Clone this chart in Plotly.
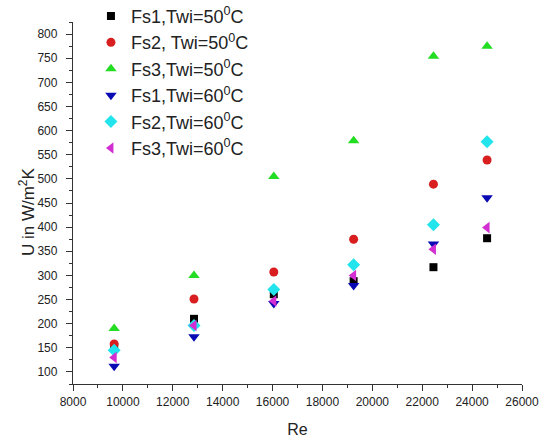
import plotly.graph_objects as go

# Reynolds numbers at which U was measured
re_values = [9650, 12850, 16050, 19250, 22450, 24600]

# Overall heat transfer coefficient U (W/m^2K)
u_fs1_50 = [152, 210, 261, 288, 317, 377]
u_fs2_50 = [158, 251, 307, 375, 489, 539]
u_fs3_50 = [190, 300, 505, 579, 754, 775]
u_fs1_60 = [112, 173, 242, 279, 365, 461]
u_fs2_60 = [145, 196, 271, 322, 405, 577]
u_fs3_60 = [130, 196, 247, 300, 354, 399]

series_names = [
    "Fs1,Twi=50<sup>0</sup>C",
    "Fs2, Twi=50<sup>0</sup>C",
    "Fs3,Twi=50<sup>0</sup>C",
    "Fs1,Twi=60<sup>0</sup>C",
    "Fs2,Twi=60<sup>0</sup>C",
    "Fs3,Twi=60<sup>0</sup>C",
]
series_values = [u_fs1_50, u_fs2_50, u_fs3_50, u_fs1_60, u_fs2_60, u_fs3_60]

styles = [
    dict(symbol="square", color="#000000", size=8),
    dict(symbol="circle", color="#d81e1e", size=9),
    dict(symbol="triangle-up", color="#22dd22", size=10),
    dict(symbol="triangle-down", color="#0a0ab4", size=10),
    dict(symbol="diamond", color="#22e4ec", size=10),
    dict(symbol="triangle-left", color="#d22ed2", size=10),
]

fig = go.Figure()
for i, (name, vals, st) in enumerate(zip(series_names, series_values, styles)):
    fig.add_trace(go.Scatter(
        x=re_values, y=vals, mode="markers", name=name,
        legendgroup=f"g{i}",
        marker=dict(symbol=st["symbol"], color=st["color"], size=st["size"],
                    line=dict(width=0)),
    ))

axis_font = dict(family="Liberation Sans, Arial, sans-serif", size=12, color="#222222")

fig.update_layout(
    width=539, height=440,
    margin=dict(l=73, r=17, t=22, b=56, autoexpand=False),
    paper_bgcolor="white", plot_bgcolor="white",
    font=dict(family="Liberation Sans, Arial, sans-serif", color="#222222"),
    showlegend=True,
    legend=dict(
        x=0.04, y=1.067, xanchor="left", yanchor="top",
        bgcolor="rgba(0,0,0,0)", borderwidth=0,
        font=dict(size=18, color="#222222"),
        tracegroupgap=0,
    ),
    # y-axis title placed slightly below the plot's vertical centre
    annotations=[dict(
        text="U in W/m<sup>2</sup>K", textangle=-90,
        xref="paper", yref="paper", x=0, y=0.475,
        xanchor="center", yanchor="middle", xshift=-46, showarrow=False,
        font=dict(size=17, color="#222222"),
    )],
)

fig.update_xaxes(
    range=[8000, 26000], tickmode="linear", tick0=8000, dtick=2000,
    tickformat="d", ticklabeloverflow="allow",
    showgrid=False, zeroline=False,
    showline=True, linecolor="#333333", linewidth=1.3,
    ticks="outside", ticklen=6, tickwidth=1.2, tickcolor="#333333",
    minor=dict(ticks="outside", ticklen=3, dtick=1000, tickcolor="#333333", showgrid=False),
    tickfont=axis_font,
    title=dict(text="Re", font=dict(size=16, color="#222222"), standoff=16),
)
fig.update_yaxes(
    range=[75, 825], tickmode="linear", tick0=100, dtick=50,
    showgrid=False, zeroline=False,
    showline=True, linecolor="#333333", linewidth=1.3,
    ticks="outside", ticklen=6, tickwidth=1.2, tickcolor="#333333",
    minor=dict(ticks="outside", ticklen=3, dtick=25, tickcolor="#333333", showgrid=False),
    tickfont=axis_font, ticklabelstandoff=6,
)

fig.write_html("out.html")
